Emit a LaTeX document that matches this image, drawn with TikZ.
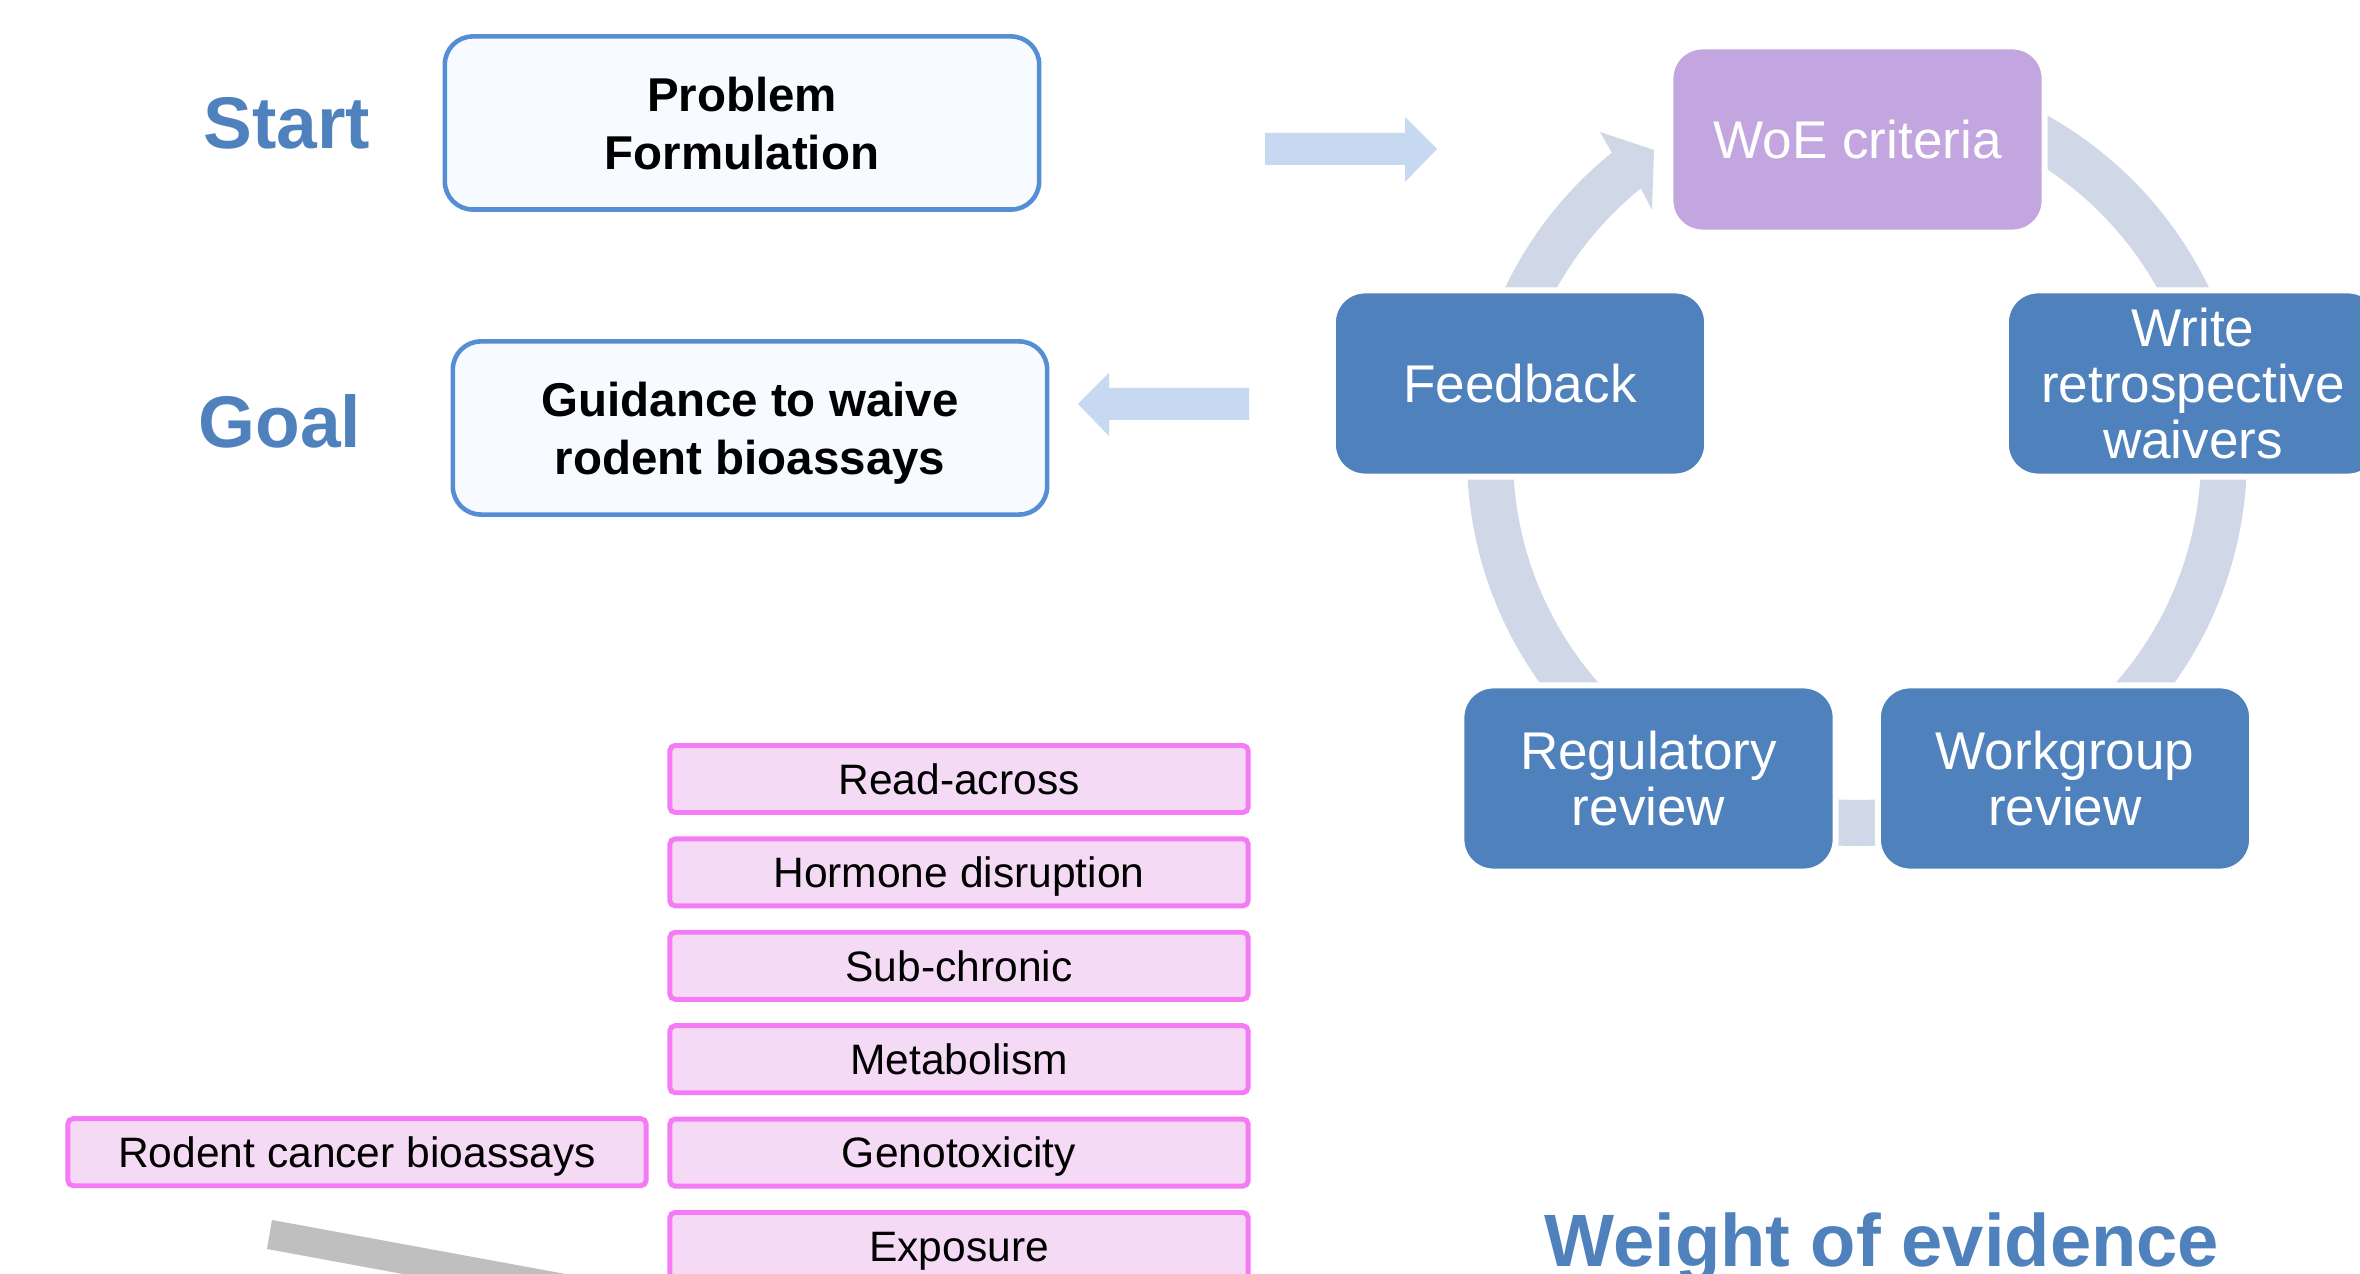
\documentclass[tikz,border=0pt]{standalone}
\usepackage{fontspec}
\setmainfont{Liberation Sans}
\usetikzlibrary{positioning,calc}

\definecolor{titleblue}{HTML}{4F81BD}
\definecolor{stageblue}{HTML}{4F81BD}
\definecolor{woepurple}{HTML}{C3A6E0}
\definecolor{ringgray}{HTML}{D0D8E8}
\definecolor{frameblue}{HTML}{558ED5}
\definecolor{paleblue}{HTML}{F7FBFF}
\definecolor{arrowblue}{HTML}{C6D9F1}
\definecolor{pinkfill}{HTML}{F4DAF4}
\definecolor{pinkline}{HTML}{F47BF3}
\definecolor{beamgray}{HTML}{BFBFBF}

\tikzset{
  heading/.style={font=\fontsize{20.8}{24}\selectfont\bfseries, text=titleblue},
  goalbox/.style={draw=frameblue, line width=1.3pt, fill=paleblue, rounded corners=0.28cm,
    minimum width=5.94cm, minimum height=1.73cm, align=center, text depth=0pt,
    font=\fontsize{13.5}{16.5}\selectfont\bfseries},
  cyclebox/.style={draw=white, line width=1.7pt, fill=stageblue, rounded corners=0.32cm,
    minimum width=3.74cm, minimum height=1.86cm, align=center, text=white,
    font=\fontsize{15.1}{15.85}\selectfont},
  evidbox/.style={draw=pinkline, line width=1.4pt, fill=pinkfill, rounded corners=1.5pt,
    minimum width=5.78cm, minimum height=0.67cm, text height=8.7pt, text depth=0pt,
    font=\fontsize{12.1}{14}\selectfont},
  flowarrow/.style={fill=arrowblue},
  ring/.style={draw=ringgray, line width=13.1pt},
}

\begin{document}
\begin{tikzpicture}[x=0.01cm, y=-0.01cm]
    \useasboundingbox (0,0) rectangle (2360,1274);
    \fill[white] (0,0) rectangle (2360,1274);
    \clip (0,0) rectangle (2360,1274);

    % Left column
    \node[heading] (start) at (287,123) {Start};
    \node[heading] (goal) at (280,421) {Goal};
    \node[goalbox] (problem) at (742,123) {Problem\\Formulation};
    \node[goalbox] (guidance) at (750,428) {Guidance to waive\\rodent bioassays};

    % Block arrows
    \fill[flowarrow] (1265,133) -- (1405,133) -- (1405,117) -- (1437,149)
        -- (1405,182) -- (1405,165) -- (1265,165) -- cycle;
    \fill[flowarrow] (1249,388) -- (1109,388) -- (1109,373) -- (1078,404)
        -- (1109,436) -- (1109,420) -- (1249,420) -- cycle;

    % Cycle ring and arrow head
    \coordinate (hub) at (1857,456);
    \draw[ring] ($(hub)+(-127.5:367)$) arc[start angle=-127.5, end angle=-435, radius=367];
    \fill[ringgray] (1612,153) -- (1600,132) -- (1654,150) -- (1652,210) -- (1641,189) -- cycle;

    % Cycle stages
    \node[cyclebox, fill=woepurple] (woe) at (1857.5,139.5) {WoE criteria};
    \node[cyclebox] (feedback) at (1520,383.5) {Feedback};
    \node[cyclebox] (write) at (2193,383.5) {Write\\retrospective\\waivers};
    \node[cyclebox] (regulatory) at (1648.5,778.5) {Regulatory\\review};
    \node[cyclebox] (workgroup) at (2065,778.5) {Workgroup\\review};

    % Evidence stack
    \foreach \txt [count=\i from 0] in {Read-across, Hormone disruption, Sub-chronic,
        Metabolism, Genotoxicity, Exposure}
        \node[evidbox] (ev\i) at (959,{779+93.4*\i}) {\txt};
    \node[evidbox] (rodent) at (357,1152.2) {Rodent cancer bioassays};

    % Balance beam
    \fill[beamgray] (272,1220) -- (267,1249) -- (767,1341) -- (772,1312) -- cycle;

    % Caption
    \node[heading, font=\fontsize{21.1}{24}\selectfont\bfseries, anchor=base west]
        (woetitle) at (1532,1267) {Weight of evidence};
\end{tikzpicture}
\end{document}
